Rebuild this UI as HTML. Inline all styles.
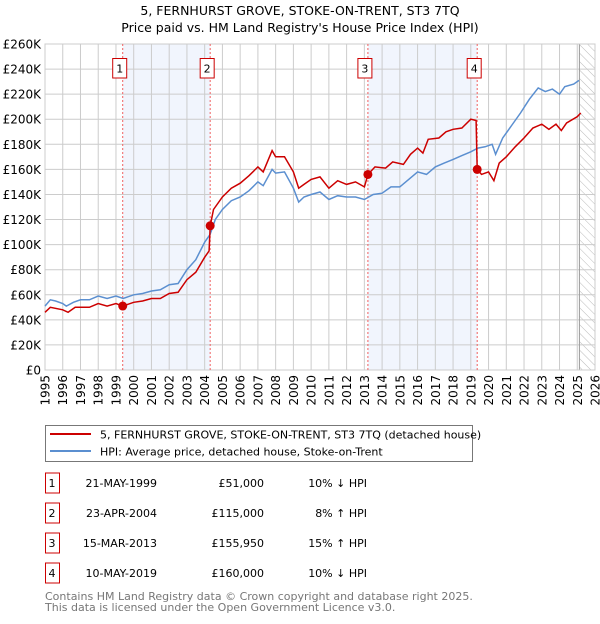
<!DOCTYPE html>
<html><head><meta charset="utf-8"><style>
body{margin:0;background:#fff;font-family:"DejaVu Sans","Liberation Sans",sans-serif;}
svg text{font-family:"DejaVu Sans","Liberation Sans",sans-serif;}
</style></head><body>
<svg id="chart" width="600" height="620" xmlns="http://www.w3.org/2000/svg">
<defs><pattern id="hatch" width="6" height="6" patternUnits="userSpaceOnUse" patternTransform="rotate(-45)"><line x1="0" y1="0" x2="0" y2="6" stroke="#bbb" stroke-width="1"/></pattern></defs>
<text x="300" y="15" text-anchor="middle" font-size="12.5">5, FERNHURST GROVE, STOKE-ON-TRENT, ST3 7TQ</text>
<text x="300" y="32" text-anchor="middle" font-size="12.5">Price paid vs. HM Land Registry's House Price Index (HPI)</text>
<g id="plot"></g>
<g>
<rect x="45.5" y="425.5" width="427" height="36" fill="#fff" stroke="#777"/>
<line x1="50" y1="434" x2="91" y2="434" stroke="#cc0000" stroke-width="2"/>
<text x="100" y="438.5" font-size="11">5, FERNHURST GROVE, STOKE-ON-TRENT, ST3 7TQ (detached house)</text>
<line x1="50" y1="451" x2="91" y2="451" stroke="#5b8fd0" stroke-width="2"/>
<text x="100" y="455.5" font-size="11">HPI: Average price, detached house, Stoke-on-Trent</text>
</g>
<g id="table"></g>
<text x="45" y="600" font-size="11" fill="#777">Contains HM Land Registry data © Crown copyright and database right 2025.</text>
<text x="45" y="611" font-size="11" fill="#777">This data is licensed under the Open Government Licence v3.0.</text>
</svg>
<script>
const yTicks=[0,20,40,60,80,100,120,140,160,180,200,220,240,260];
const xYears=[1995,1996,1997,1998,1999,2000,2001,2002,2003,2004,2005,2006,2007,2008,2009,2010,2011,2012,2013,2014,2015,2016,2017,2018,2019,2020,2021,2022,2023,2024,2025,2026];
const hpiX=[1995.0,1995.3,1995.6,1996.0,1996.2,1996.6,1997.0,1997.5,1998.0,1998.5,1999.0,1999.4,2000.0,2000.5,2001.0,2001.5,2002.0,2002.5,2003.0,2003.5,2004.0,2004.3,2004.6,2005.0,2005.5,2006.0,2006.5,2007.0,2007.3,2007.8,2008.0,2008.5,2009.0,2009.3,2009.6,2010.0,2010.5,2011.0,2011.5,2012.0,2012.5,2013.0,2013.5,2014.0,2014.5,2015.0,2015.5,2016.0,2016.5,2017.0,2017.5,2018.0,2018.5,2019.0,2019.4,2019.8,2020.2,2020.4,2020.8,2021.3,2021.8,2022.3,2022.8,2023.2,2023.6,2024.0,2024.3,2024.8,2025.1];
const hpiY=[51,56,55,53,51,54,56,56,59,57,59,57,60,61,63,64,68,69,80,88,102,108,120,128,135,138,143,150,147,160,157,158,145,134,138,140,142,136,139,138,138,136,140,141,146,146,152,158,156,162,165,168,171,174,177,178,180,172,185,195,205,216,225,222,224,220,226,228,231];
const priceX=[1995.0,1995.3,1996.0,1996.3,1996.7,1997.5,1998.0,1998.5,1999.0,1999.38,2000,2000.5,2001,2001.5,2002,2002.5,2003,2003.5,2004.0,2004.25,2004.31,2004.5,2005.0,2005.5,2006.0,2006.5,2007.0,2007.3,2007.8,2008.0,2008.5,2009.0,2009.3,2009.6,2010.0,2010.5,2011.0,2011.5,2012.0,2012.5,2013.0,2013.2,2013.6,2014.2,2014.6,2015.2,2015.6,2016.0,2016.3,2016.6,2017.2,2017.6,2018.0,2018.5,2019.0,2019.3,2019.36,2019.6,2020.0,2020.3,2020.6,2021.0,2021.5,2022.0,2022.5,2023.0,2023.4,2023.8,2024.1,2024.4,2025.0,2025.2];
const priceY=[46,50,48,46,50,50,53,51,53,51,54,55,57,57,61,62,72,78,90,95,115,128,138,145,149,155,162,158,175,170,170,158,145,148,152,154,145,151,148,150,146,155.95,162,161,166,164,172,177,173,184,185,190,192,193,200,199,160,156,158,151,165,170,178,185,193,196,192,196,191,197,202,205];
const saleX=[1999.38,2004.31,2013.2,2019.36];
const saleY=[51,115,155.95,160];
const saleLabels=["1","2","3","4"];
const saleDates=["21-MAY-1999","23-APR-2004","15-MAR-2013","10-MAY-2019"];
const salePrices=["£51,000","£115,000","£155,950","£160,000"];
const saleHpi=["10% ↓ HPI","8% ↑ HPI","15% ↑ HPI","10% ↓ HPI"];
const dataEnd=2025.12;

const L=45,R=595,T=44,B=370;
const sx=v=>L+(v-1995)/(2026-1995)*(R-L);
const sy=v=>B-v/260*(B-T);
const NS="http://www.w3.org/2000/svg";
const plot=document.getElementById('plot');
function mk(tag,attrs,parent){const e=document.createElementNS(NS,tag);for(const k in attrs)e.setAttribute(k,attrs[k]);(parent||plot).appendChild(e);return e;}
for(let i=0;i<4;i+=2){const r=mk('rect',{x:sx(saleX[i]),y:T,width:sx(saleX[i+1])-sx(saleX[i]),height:B-T,fill:'#eef3fc',opacity:0.8});

}
const h=mk('rect',{x:sx(dataEnd),y:T,width:R-sx(dataEnd),height:B-T,fill:'url(#hatch)'});


yTicks.forEach(v=>{const g=mk('line',{x1:L,x2:R,y1:sy(v),y2:sy(v),stroke:'#ccc','stroke-width':1});


const t=mk('text',{x:L-4,y:sy(v)+4.5,'text-anchor':'end','font-size':12});t.textContent='£'+(v===0?'0':v+'K');

});
xYears.forEach(v=>{const g=mk('line',{x1:sx(v),x2:sx(v),y1:T,y2:B,stroke:'#ccc','stroke-width':1});


const t=mk('text',{x:0,y:0,'text-anchor':'end','font-size':12,transform:`translate(${sx(v)+4.5},${B+5}) rotate(-90)`});t.textContent=v;

});
const el=mk('line',{x1:sx(dataEnd),x2:sx(dataEnd),y1:T,y2:B,stroke:'#999','stroke-width':1});


mk('rect',{x:L,y:T,width:R-L,height:B-T,fill:'none',stroke:'#ccc'});
saleX.forEach((v,i)=>{const l=mk('line',{x1:sx(v),x2:sx(v),y1:T,y2:B,stroke:'#f06060','stroke-width':1,'stroke-dasharray':'2,2'});

});
function pts(xs,ys){return xs.map((x,i)=>sx(x).toFixed(1)+','+sy(ys[i]).toFixed(1)).join(' ');}
const hl=mk('polyline',{points:pts(hpiX,hpiY),fill:'none',stroke:'#5b8fd0','stroke-width':1.5});


const pl=mk('polyline',{points:pts(priceX,priceY),fill:'none',stroke:'#cc0000','stroke-width':1.5});


saleX.forEach((v,i)=>{const c=mk('circle',{cx:sx(v),cy:sy(saleY[i]),r:4.5,fill:'#cc0000'});


const b=mk('rect',{x:sx(v)-10,y:58.5,width:14,height:19.5,fill:'#fff',stroke:'#cc0000'});


const t=mk('text',{x:sx(v)-3,y:72.5,'text-anchor':'middle','font-size':11});t.textContent=saleLabels[i];

});
const tb=document.getElementById('table');
saleLabels.forEach((s,i)=>{const cy=483+i*30;
const b=mk('rect',{x:45.5,y:cy-10,width:14,height:20,fill:'#fff',stroke:'#cc0000'},tb);


const cols=[[52,s,'middle'],[157,saleDates[i],'end'],[264,salePrices[i],'end'],[367,saleHpi[i],'end']];
cols.forEach(c=>{const t=mk('text',{x:c[0],y:cy+4,'text-anchor':c[2],'font-size':11},tb);t.textContent=c[1];

});});
</script>
</body></html>
